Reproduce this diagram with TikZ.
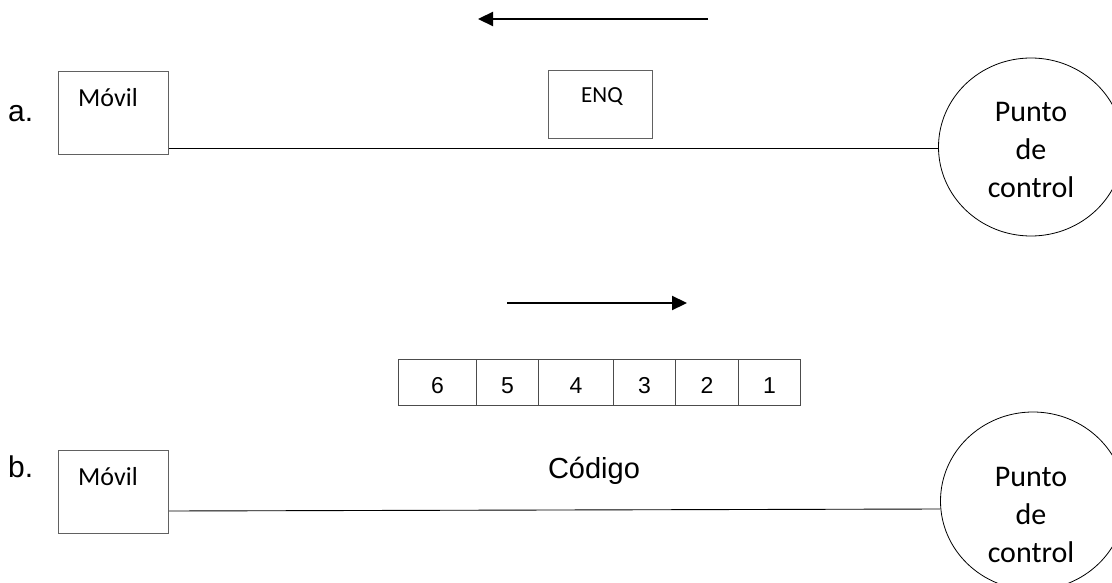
\documentclass[tikz,border=0pt]{standalone}
\usepackage{fontspec}
\usetikzlibrary{arrows.meta,shapes.geometric}
\newfontfamily\carlito{Carlito}
\newfontfamily\liber{Liberation Sans}
\begin{document}
\begin{tikzpicture}[x=1pt,y=-1pt,
  frame/.style={draw=black!62,line width=1.2pt,inner sep=0pt,anchor=north west},
  unitbox/.style={frame,minimum width=110pt,minimum height=83pt},
  cell/.style={draw=black!70,line width=0.9pt,minimum height=46pt,inner sep=0pt,
    anchor=north west,font=\liber\fontsize{23}{27}\selectfont,text height=22pt,text depth=0pt},
  station/.style={ellipse,draw,line width=0.8pt,minimum width=185pt,minimum height=178pt,inner sep=0pt},
  stationtext/.style={font=\carlito\fontsize{30}{38}\selectfont,align=center,inner sep=0pt},
  boxtext/.style={font=\carlito\fontsize{26}{30}\selectfont,anchor=base,inner sep=0pt},
  tag/.style={font=\liber\fontsize{30}{34}\selectfont,anchor=base west,inner sep=0pt},
  wire/.style={line width=0.9pt},
  flow/.style={line width=2.2pt,-{Triangle[length=15pt,width=14pt]}}
]
\useasboundingbox (0,0) rectangle (1112,583);
\clip (0,0) rectangle (1112,583);

% ---- a. polling: ENQ from control point to mobile
\coordinate (flowAstart) at (708,19);
\coordinate (flowAend) at (478,19);
\draw[flow] (flowAstart) -- (flowAend);

\node[tag] (tagA) at (8,122) {a.};
\node[unitbox] (movilA) at (58,71) {};
\node[boxtext] (movilAtext) at (108,107) {Móvil};
\node[frame,minimum width=104pt,minimum height=68pt] (enq) at (548,70) {};
\node[font=\carlito\fontsize{23}{27}\selectfont,anchor=base,inner sep=0pt] (enqtext) at (602,103) {ENQ};
\node[station] (pcA) at (1031,147) {};
\node[stationtext] (pcAtext) at (1031,150) {Punto\\de\\control};
\draw[wire] (movilA.east |- 0,148) -- (pcA.west |- 0,148);

% ---- b. answer: code sent from mobile to control point
\coordinate (flowBstart) at (507,303);
\coordinate (flowBend) at (687,303);
\draw[flow] (flowBstart) -- (flowBend);

\node[cell,minimum width=78pt] (c6) at (398,359) {6};
\node[cell,minimum width=62pt] (c5) at (476,359) {5};
\node[cell,minimum width=75pt] (c4) at (538,359) {4};
\node[cell,minimum width=62pt] (c3) at (613,359) {3};
\node[cell,minimum width=63pt] (c2) at (675,359) {2};
\node[cell,minimum width=62pt] (c1) at (738,359) {1};

\node[tag] (tagB) at (8,477) {b.};
\node[unitbox] (movilB) at (58,450) {};
\node[boxtext] (movilBtext) at (108,485) {Móvil};
\node[font=\liber\fontsize{29}{34}\selectfont,anchor=base,inner sep=0pt] (codigo) at (594,478) {Código};
\node[station] (pcB) at (1033,501) {};
\node[stationtext] (pcBtext) at (1031,515) {Punto\\de\\control};
\draw[wire] (movilB.east |- 0,511) -- (pcB.west |- 0,509);
\end{tikzpicture}
\end{document}
